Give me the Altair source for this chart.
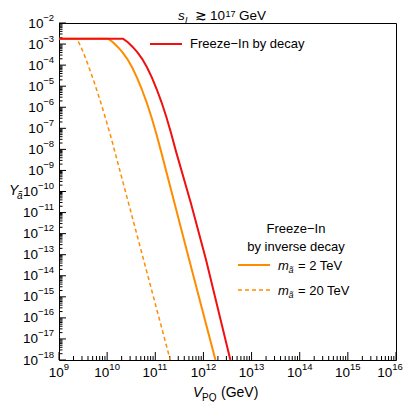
import altair as alt
import pandas as pd

FONT = "Liberation Sans"
RED = "#f01010"
ORANGE = "#ff8c00"

# ---- data (log10 values) ----
red_logV = [9.0, 10.33, 10.43, 10.53, 10.63, 10.73, 10.83, 10.93, 11.03, 11.13, 11.23, 11.33, 11.43, 11.74, 12.05, 12.56]
red_logY = [-2.745, -2.745, -2.915, -3.135, -3.395, -3.715, -4.115, -4.595, -5.145, -5.765, -6.465, -7.245, -8.095, -10.56, -13.2, -18.0]

or2_logV = [9.0, 10.02, 10.12, 10.22, 10.32, 10.42, 10.52, 10.62, 10.72, 10.82, 10.92, 11.02, 11.12, 11.4, 11.7, 12.25]
or2_logY = [-2.745, -2.745, -2.915, -3.135, -3.395, -3.715, -4.115, -4.595, -5.145, -5.765, -6.465, -7.245, -8.095, -10.56, -13.2, -18.0]

or20_logV = [9.0, 9.37, 9.45, 9.53, 9.61, 9.73, 9.85, 9.97, 10.09, 10.4, 10.75, 11.05, 11.31]
or20_logY = [-2.745, -2.745, -3.105, -3.545, -4.025, -4.805, -5.645, -6.545, -7.505, -10.17, -13.18, -15.76, -18.0]

x_exps = [9, 10, 11, 12, 13, 14, 15, 16]
y_exps = [-2, -3, -4, -5, -6, -7, -8, -9, -10, -11, -12, -13, -14, -15, -16, -17, -18]

W, H = 337, 337


def s(k):
    return str(k).replace("-", "\u2212")


rows = []
for name, lv, ly in [("red", red_logV, red_logY), ("o2", or2_logV, or2_logY), ("o20", or20_logV, or20_logY)]:
    for i, (a, b) in enumerate(zip(lv, ly)):
        rows.append({"s": name, "i": i, "V": 10 ** a, "Y": 10 ** b})
df = pd.DataFrame(rows)

xs = alt.Scale(type="log", domain=[1e9, 1e16])
ys = alt.Scale(type="log", domain=[1e-18, 1e-2])
X = alt.X("V:Q", scale=xs, axis=None)
Yc = alt.Y("Y:Q", scale=ys, axis=None)

red = alt.Chart(df[df.s == "red"]).mark_line(color=RED, strokeWidth=2, clip=True).encode(x=X, y=Yc, order="i:Q")
o2 = alt.Chart(df[df.s == "o2"]).mark_line(color=ORANGE, strokeWidth=2, clip=True).encode(x=X, y=Yc, order="i:Q")
o20 = alt.Chart(df[df.s == "o20"]).mark_line(color=ORANGE, strokeWidth=1.5, strokeDash=[4, 3], clip=True).encode(x=X, y=Yc, order="i:Q")

# ticks
ymaj = pd.DataFrame({"Y": [10.0 ** k for k in y_exps], "e": [s(k) for k in y_exps], "ten": ["10"] * len(y_exps)})
ymin = pd.DataFrame({"Y": [m * 10.0 ** k for k in y_exps if k < -2 for m in range(2, 10)]})
xmaj = pd.DataFrame({"V": [10.0 ** k for k in x_exps], "e": [s(k) for k in x_exps], "ten": ["10"] * len(x_exps)})
xmin = pd.DataFrame({"V": [m * 10.0 ** k for k in x_exps if k < 16 for m in range(2, 10)]})

ytick_maj = alt.Chart(ymaj).mark_rule(color="black", strokeWidth=1).encode(y=Yc, x=alt.value(0), x2=alt.value(7))
ytick_min = alt.Chart(ymin).mark_rule(color="black", strokeWidth=1).encode(y=Yc, x=alt.value(0), x2=alt.value(3.5))
xtick_maj = alt.Chart(xmaj).mark_rule(color="black", strokeWidth=1).encode(x=X, y=alt.value(H), y2=alt.value(H - 8))
xtick_min = alt.Chart(xmin).mark_rule(color="black", strokeWidth=1).encode(x=X, y=alt.value(H), y2=alt.value(H - 4))

TEN = 13.5
SUPS = 9.5
SUPW = {1: 5.3, 2: 10.6, 3: 15.9}  # approximate superscript widths


def ylabels(sub):
    n = len(sub.e.iloc[0])
    w = SUPW[n]
    base = alt.Chart(sub)
    t = base.mark_text(align="right", baseline="alphabetic", font=FONT, fontSize=TEN, color="black",
                       dx=-w, dy=4.5).encode(y=Yc, x=alt.value(-5), text="ten:N")
    e = base.mark_text(align="right", baseline="alphabetic", font=FONT, fontSize=SUPS, color="black",
                       dy=-2.5).encode(y=Yc, x=alt.value(-5), text="e:N")
    return [t, e]


def xlabels(sub, shift=0.0):
    n = len(sub.e.iloc[0])
    w = SUPW[n]
    tw = 15.0
    left = -(tw + w) / 2 + shift
    base = alt.Chart(sub)
    t = base.mark_text(align="left", baseline="alphabetic", font=FONT, fontSize=TEN, color="black",
                       dx=left).encode(x=X, y=alt.value(H + 17), text="ten:N")
    e = base.mark_text(align="left", baseline="alphabetic", font=FONT, fontSize=SUPS, color="black",
                       dx=left + tw).encode(x=X, y=alt.value(H + 10), text="e:N")
    return [t, e]


labels = []
for n in sorted(set(len(v) for v in ymaj.e)):
    labels += ylabels(ymaj[ymaj.e.str.len() == n])
last = xmaj.V.max()
for n in sorted(set(len(v) for v in xmaj.e)):
    sub = xmaj[(xmaj.e.str.len() == n) & (xmaj.V < last)]
    if len(sub):
        labels += xlabels(sub)
# the last label is nudged left so it stays inside the canvas
labels += xlabels(xmaj[xmaj.V == last], shift=-6)


def txt(st, x, y, size=13, italic=False, align="left", baseline="alphabetic"):
    return alt.Chart(pd.DataFrame({"t": [st]})).mark_text(
        align=align, baseline=baseline, fontSize=size, font=FONT,
        fontStyle="italic" if italic else "normal", color="black"
    ).encode(text="t:N", x=alt.value(x), y=alt.value(y))


def seg(x1, x2, y, color, width=2, dash=None):
    kw = dict(color=color, strokeWidth=width)
    if dash:
        kw["strokeDash"] = dash
    return alt.Chart(pd.DataFrame({"a": [0]})).mark_rule(**kw).encode(
        x=alt.value(x1), x2=alt.value(x2), y=alt.value(y))


texts = [
    # title
    txt("s", 119, -3, 13.5, italic=True),
    txt("I", 126, -0.5, 9, italic=True),
    txt("≳", 136, -3, 13.5),
    txt("10", 151, -3, 13.5),
    txt("17", 166.5, -6.5, 9),
    txt("GeV", 180, -3, 13.5),
    # y title
    txt("Y", -50, 172, 14, italic=True),
    txt("ã", -42, 176, 10, italic=True),
    # x title
    txt("V", 134, 374, 14, italic=True),
    txt("PQ", 143, 378, 10),
    txt("(GeV)", 162, 374, 14),
    # legend 1
    seg(91, 123, 21, RED),
    txt("Freeze−In by decay", 131, 21, 13, baseline="middle"),
    # legend 2
    txt("Freeze−In", 237, 206, 13, align="center", baseline="middle"),
    txt("by inverse decay", 237, 224, 13, align="center", baseline="middle"),
    seg(179, 211, 242, ORANGE),
    txt("m", 219, 247, 13, italic=True),
    txt("ã", 229.5, 250, 9, italic=True),
    txt("= 2 TeV", 239, 247, 13),
    seg(179, 211, 267, ORANGE, 1.5, [4, 3]),
    txt("m", 219, 272, 13, italic=True),
    txt("ã", 229.5, 275, 9, italic=True),
    txt("= 20 TeV", 239, 272, 13),
]

chart = alt.layer(
    ytick_min, ytick_maj, xtick_min, xtick_maj, o20, o2, red, *labels, *texts
).properties(
    width=W, height=H,
    autosize=alt.AutoSizeParams(type="none"),
    padding={"left": 51, "top": 15, "right": 7, "bottom": 42},
).configure_view(stroke="black", strokeWidth=1)

chart.save("out.html", embed_options={"renderer": "svg", "actions": False})
